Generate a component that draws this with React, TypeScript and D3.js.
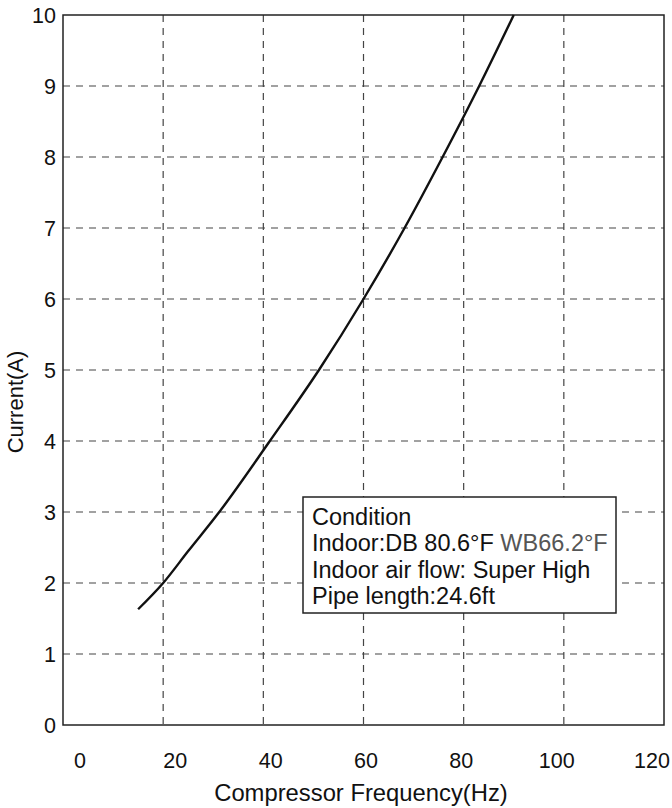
import React, { useRef, useEffect } from "react";
import * as d3 from "d3";

// Compressor frequency (Hz) vs current (A)
const frequency = [15, 20, 25, 31.2, 41.3, 51.1, 60, 68.2, 75.8, 83.1, 90];
const current = [1.63, 2.0, 2.45, 3, 4, 5, 6, 7, 8, 9, 10];

const xTicks = [0, 20, 40, 60, 80, 100, 120];
const yTicks = [0, 1, 2, 3, 4, 5, 6, 7, 8, 9, 10];

const conditionLines = [
    "Condition",
    "Indoor:DB 80.6°F ",
    "Indoor air flow: Super High",
    "Pipe length:24.6ft",
];

const WIDTH = 672;
const HEIGHT = 808;
const FONT = "'Liberation Sans', Arial, Helvetica, sans-serif";

const App: React.FC = () => {
    const svgRef = useRef<SVGSVGElement | null>(null);

    useEffect(() => {
        if (!svgRef.current) return;
        const svg = d3.select(svgRef.current);
        svg.selectAll("*").remove();

        const left = 63;
        const right = 664;
        const top = 15;
        const bottom = 725;

        const x = d3.scaleLinear().domain([0, 120]).range([left, right]);
        const y = d3.scaleLinear().domain([0, 10]).range([bottom, top]);
        // tick labels in the original sit a bit inside the frame ends
        const xLabel = d3.scaleLinear().domain([0, 120]).range([80, 652]);

        svg.append("rect")
            .attr("width", WIDTH)
            .attr("height", HEIGHT)
            .attr("fill", "#fff");

        // grid
        const grid = svg.append("g")
            .attr("stroke", "#444")
            .attr("stroke-width", 1.2)
            .attr("stroke-dasharray", "7,6");

        grid.selectAll("line.v")
            .data(xTicks.slice(1, -1))
            .enter()
            .append("line")
            .attr("x1", (d) => x(d))
            .attr("x2", (d) => x(d))
            .attr("y1", top)
            .attr("y2", bottom);

        grid.selectAll("line.h")
            .data(yTicks.slice(1, -1))
            .enter()
            .append("line")
            .attr("x1", left)
            .attr("x2", right)
            .attr("y1", (d) => y(d))
            .attr("y2", (d) => y(d));

        // frame
        svg.append("rect")
            .attr("x", left)
            .attr("y", top)
            .attr("width", right - left)
            .attr("height", bottom - top)
            .attr("fill", "none")
            .attr("stroke", "#222")
            .attr("stroke-width", 1.5);

        // curve
        const points = frequency.map((f, i) => [f, current[i]] as [number, number]);
        const line = d3.line<[number, number]>()
            .x((d) => x(d[0]))
            .y((d) => y(d[1]))
            .curve(d3.curveMonotoneX);

        svg.append("path")
            .datum(points)
            .attr("d", line)
            .attr("fill", "none")
            .attr("stroke", "#111")
            .attr("stroke-width", 2.4);

        // y tick labels
        svg.append("g")
            .selectAll("text")
            .data(yTicks)
            .enter()
            .append("text")
            .attr("x", 56)
            .attr("y", (d) => y(d))
            .attr("dy", "0.36em")
            .attr("text-anchor", "end")
            .style("font-family", FONT)
            .style("font-size", "21.5px")
            .attr("fill", "#111")
            .text((d) => String(d));

        // x tick labels
        svg.append("g")
            .selectAll("text")
            .data(xTicks)
            .enter()
            .append("text")
            .attr("x", (d) => xLabel(d))
            .attr("y", 768)
            .attr("text-anchor", "middle")
            .style("font-family", FONT)
            .style("font-size", "21.5px")
            .attr("fill", "#111")
            .text((d) => String(d));

        // axis titles
        svg.append("text")
            .attr("x", 361)
            .attr("y", 801)
            .attr("text-anchor", "middle")
            .style("font-family", FONT)
            .style("font-size", "23.8px")
            .attr("fill", "#111")
            .text("Compressor Frequency(Hz)");

        svg.append("text")
            .attr("transform", "translate(23, 402) rotate(-90)")
            .attr("text-anchor", "middle")
            .style("font-family", FONT)
            .style("font-size", "22px")
            .attr("fill", "#111")
            .text("Current(A)");

        // condition box
        const box = svg.append("g");
        box.append("rect")
            .attr("x", 303)
            .attr("y", 497)
            .attr("width", 313)
            .attr("height", 116)
            .attr("fill", "#fff")
            .attr("stroke", "#222")
            .attr("stroke-width", 1.5);

        const texts = box.selectAll("text")
            .data(conditionLines)
            .enter()
            .append("text")
            .attr("x", 312)
            .attr("y", (d, i) => 524.5 + i * 26.5)
            .style("font-family", FONT)
            .style("font-size", "23.5px")
            .attr("fill", "#111")
            .text((d) => d);

        texts.filter((d, i) => i === 1)
            .append("tspan")
            .attr("fill", "#555")
            .text("WB66.2°F");
    }, []);

    return (
        <svg
            ref={svgRef}
            width={WIDTH}
            height={HEIGHT}
            style={{ position: "absolute", left: 0, top: 0, display: "block" }}
        />
    );
};

export default App;
